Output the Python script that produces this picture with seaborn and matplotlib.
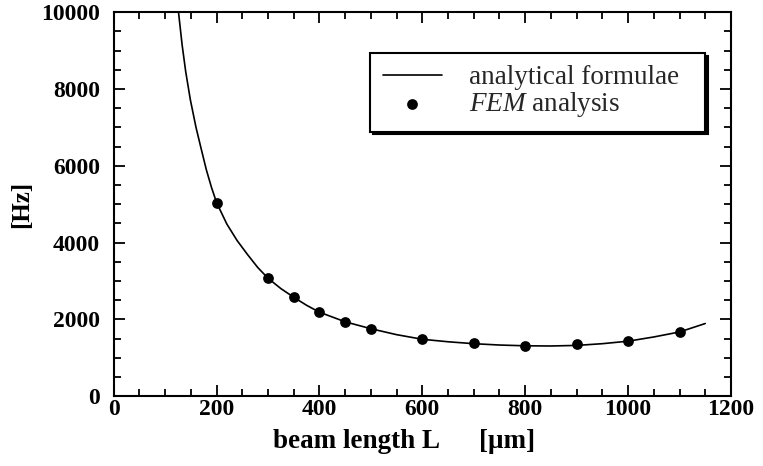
import matplotlib
matplotlib.use("Agg")
import matplotlib.pyplot as plt
import seaborn as sns
import pandas as pd
from matplotlib.ticker import MultipleLocator

# analytical curve
curve_length = [120, 126, 133, 140, 149, 160, 169, 180, 190, 200, 220, 240, 260, 280,
                300, 325, 350, 375, 400, 450, 500, 550, 600, 650, 700, 750, 800, 850,
                900, 950, 1000, 1050, 1100, 1150]
curve_freq = [10700, 10000, 9150, 8450, 7720, 7000, 6500, 5900, 5440, 5040, 4480, 4050,
              3690, 3350, 3070, 2800, 2575, 2365, 2185, 1935, 1755, 1600, 1480, 1415,
              1365, 1330, 1310, 1305, 1320, 1365, 1430, 1540, 1670, 1890]

# FEM points
fem_length = [200, 300, 350, 400, 450, 500, 600, 700, 800, 900, 1000, 1100]
fem_freq = [5040, 3065, 2585, 2180, 1935, 1760, 1475, 1370, 1310, 1345, 1430, 1675]

x_ticks = [0, 200, 400, 600, 800, 1000, 1200]
y_ticks = [0, 2000, 4000, 6000, 8000, 10000]


def main():
    sns.set_theme(style="ticks")
    plt.rcParams["font.family"] = ["Liberation Serif", "DejaVu Serif"]
    plt.rcParams["mathtext.fontset"] = "custom"
    plt.rcParams["mathtext.rm"] = "Liberation Serif"
    plt.rcParams["mathtext.it"] = "Liberation Serif:italic"

    curve = pd.DataFrame({"L": curve_length, "f": curve_freq})
    fem = pd.DataFrame({"L": fem_length, "f": fem_freq})

    fig = plt.figure(figsize=(7.63, 4.66), dpi=100)
    ax = fig.add_axes([0.149, 0.150, 0.809, 0.824])

    sns.lineplot(data=curve, x="L", y="f", ax=ax, color="black", linewidth=1.2,
                 estimator=None, sort=True, label="analytical formulae  ")
    sns.scatterplot(data=fem, x="L", y="f", ax=ax, color="black", s=60,
                    edgecolor="black", linewidth=0, label=r"$\it{FEM}$ analysis", zorder=3)

    ax.set_xlim(0, 1200)
    ax.set_ylim(0, 10000)
    ax.set_xticks(x_ticks)
    ax.set_yticks(y_ticks)
    ax.xaxis.set_minor_locator(MultipleLocator(50))
    ax.yaxis.set_minor_locator(MultipleLocator(500))

    ax.tick_params(which="both", direction="in", top=True, right=True, colors="black",
                   labelsize=17, width=1.3)
    ax.tick_params(axis="x", pad=2)
    ax.tick_params(axis="y", pad=10)
    ax.tick_params(which="major", length=8)
    ax.tick_params(which="minor", length=5)
    for lab in ax.get_xticklabels() + ax.get_yticklabels():
        lab.set_fontweight("bold")

    for sp in ax.spines.values():
        sp.set_visible(True)
        sp.set_color("black")
        sp.set_linewidth(1.5)

    ax.set_xlabel("beam length L      [\u03bcm]", fontsize=19.5, fontweight="bold",
                  color="black")
    ax.xaxis.set_label_coords(0.47, -0.085)
    ax.set_ylabel("[Hz]", fontsize=18, fontweight="bold", color="black")
    ax.yaxis.set_label_coords(-0.131, 0.5)

    leg = ax.legend(loc="upper right", bbox_to_anchor=(0.958, 0.893), fontsize=19.5,
                    frameon=True, fancybox=False, shadow={"color": "black", "alpha": 1},
                    handlelength=2.2, handletextpad=1.0, labelspacing=0.0,
                    borderpad=0.45, borderaxespad=0, framealpha=1, edgecolor="black")
    leg.get_frame().set_linewidth(1.5)

    fig.savefig("out.png", dpi=100)


if __name__ == "__main__":
    main()
